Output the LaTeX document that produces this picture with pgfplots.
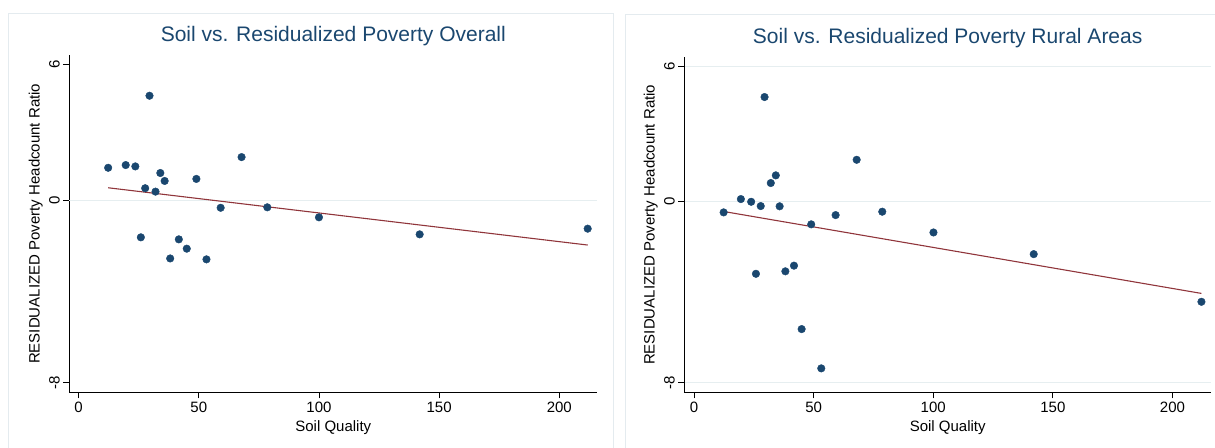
\documentclass[border=0pt]{standalone}
\usepackage{fontspec}
\setmainfont{Liberation Sans}
\usepackage{pgfplots}
\pgfplotsset{compat=1.18}
\definecolor{stnavy}{HTML}{1A476F}
\definecolor{stmaroon}{HTML}{90353B}
\definecolor{gridc}{HTML}{E6EEF0}
\definecolor{framec}{HTML}{E4EBEF}

\pgfplotstableread{
x y
12.3 1.45
19.6 1.57
23.6 1.51
29.5 4.62
34.0 1.22
35.8 0.87
27.7 0.55
32.0 0.40
49.0 0.96
67.8 1.92
59.1 -0.31
78.5 -0.29
100.0 -0.73
141.9 -1.48
211.8 -1.23
25.9 -1.61
41.7 -1.70
45.0 -2.11
38.1 -2.54
53.2 -2.58
}\overall

\pgfplotstableread{
x y
12.4 -0.47
19.6 0.12
23.9 0.00
27.9 -0.19
29.5 4.64
32.1 0.83
34.2 1.17
35.8 -0.20
25.9 -3.19
38.2 -3.08
41.8 -2.83
45.0 -5.64
53.2 -7.38
49.0 -1.00
59.2 -0.59
68.0 1.86
78.7 -0.44
100.1 -1.36
142.0 -2.32
212.1 -4.43
}\rural

\pgfplotsset{
  stata/.style={
    scale only axis,
    axis lines=left,
    axis line style={-, black, line width=0.9pt},
    tick align=outside,
    major tick length=6pt,
    tick style={black, line width=0.9pt},
    xtick={0,50,100,150,200},
    ytick={-8,0,6},
    minor tick num=0,
    /pgf/number format/assume math mode=true,
    tick label style={font=\fontsize{15}{18}\selectfont},
    yticklabel style={rotate=90, anchor=south},
    xlabel={Soil Quality},
    ylabel={RESIDUALIZED Poverty Headcount Ratio},
    label style={font=\fontsize{15}{18}\selectfont},
    xlabel style={at={([yshift=-39pt]axis description cs:0.5,0)}, anchor=base},
    ylabel style={at={([xshift=-29.7pt]axis description cs:0,0.5)}, rotate=0, anchor=base},
    title style={at={([yshift=7.5pt]axis description cs:0.5,1)}, anchor=base, font=\fontsize{21}{25}\selectfont, text=stnavy},
    grid style={gridc, line width=1.2pt},
    clip=false,
  },
}

\begin{document}
\begin{tikzpicture}
\path[use as bounding box] (0pt,0pt) rectangle (1215pt,447pt);
\draw[framec, line width=1.3pt] (8.6pt,-10pt) rectangle (613.3pt,433.7pt);
\draw[framec, line width=1.3pt] (625.7pt,-10pt) rectangle (1240pt,432.3pt);

\begin{axis}[stata,
  at={(69.3pt,54.7pt)}, anchor=south west,
  width=528pt, height=337pt,
  xmin=-3.87, xmax=215.8, ymin=-8.43, ymax=6.40,
  extra y ticks={0}, extra y tick labels={},
  extra y tick style={grid=major},
  title={Soil vs. Residualized Poverty Overall},
]
\addplot[only marks, mark=*, mark size=3.8pt, stnavy, mark options={draw=none, fill=stnavy}] table[x=x,y=y]{\overall};
\addplot[stmaroon, line width=1.1pt] coordinates {(12.3,0.57) (211.8,-1.95)};
\end{axis}

\begin{axis}[stata,
  at={(684.4pt,54.7pt)}, anchor=south west,
  width=526.6pt, height=335pt,
  xmin=-4.0, xmax=216.1, ymin=-8.44, ymax=6.40,
  ymajorgrids,
  title={Soil vs. Residualized Poverty Rural Areas},
]
\addplot[only marks, mark=*, mark size=3.8pt, stnavy, mark options={draw=none, fill=stnavy}] table[x=x,y=y]{\rural};
\addplot[stmaroon, line width=1.1pt] coordinates {(12.4,-0.43) (212.1,-4.06)};
\end{axis}
\end{tikzpicture}
\end{document}
